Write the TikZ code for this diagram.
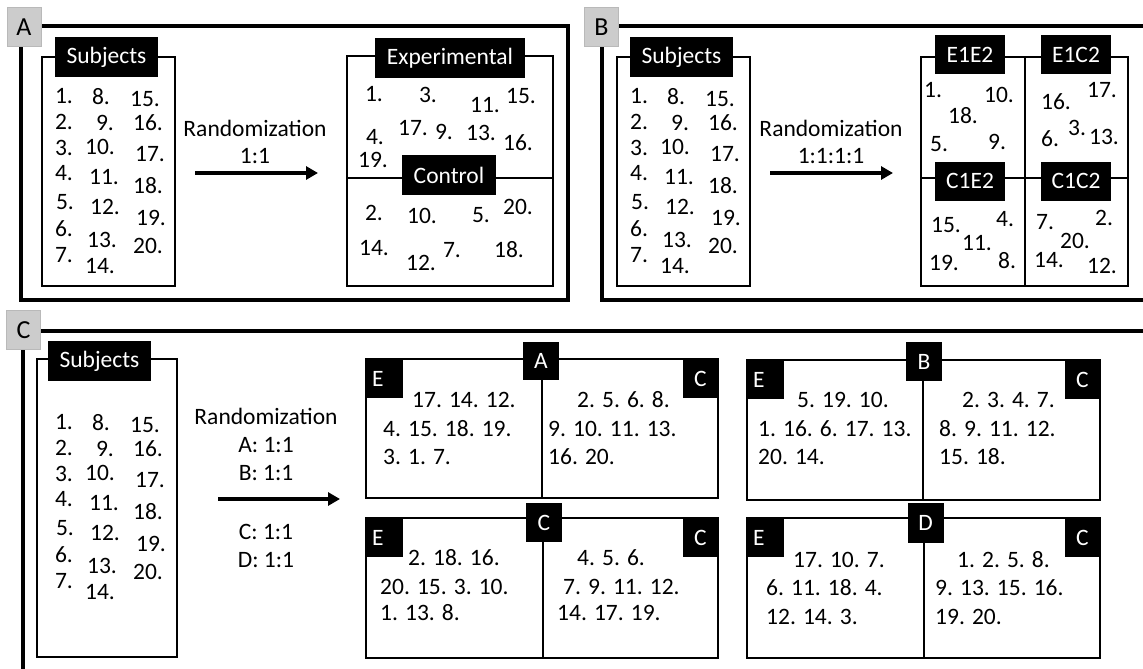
\documentclass[tikz,border=0pt]{standalone}
\usepackage{fontspec}
\setmainfont{Carlito}
\usetikzlibrary{arrows.meta}
\newcommand\mysubjnums[1]{%
  \foreach \t/\px/\py [count=\i] in {1/64/96,2/64/122,3/64/148,4/64/173,5/65/202,6/64/229,7/64/255,
    8/101/97,9/105/123,10/100/147,11/104/177,12/105/207,13/102/240,14/100/266,
    15/145/99,16/148/123,17/150/154,18/148/186,19/151/218,20/148/246}
  {\node[num] (#1\i) at (\px,\py) {\t.};}}
\begin{document}
\begin{tikzpicture}[x=1pt,y=-1pt,
  txt/.style={font=\fontsize{23.5}{28}\selectfont, inner sep=0pt},
  num/.style={txt},
  line/.style={txt, anchor=west},
  blk/.style={fill=black, text=white, font=\fontsize{23.5}{28}\selectfont, inner sep=0pt},
  corner/.style={blk, minimum height=39pt, text width=25pt, inner xsep=6pt, align=left},
  letterbox/.style={fill=gray!40, draw=gray!55, line width=1pt, minimum width=34pt, minimum height=39pt, inner sep=0pt, font=\fontsize{26}{30}\selectfont, anchor=north west},
  frame/.style={line width=3.4pt},
  box/.style={line width=2.9pt},
  arr/.style={line width=4pt, -{Triangle[length=12pt,width=13pt]}}]
\useasboundingbox (0,0) rectangle (1143,669);
\clip (0,0) rectangle (1143,669);
\fill[white] (0,0) rectangle (1143,669);
% ---------- frames
\draw[frame] (21,26) rectangle (568,300);
\draw[frame] (1160,26) -- (602,26) -- (602,300) -- (1160,300);
\draw[frame] (1160,331) -- (23,331) -- (23,690);
\node[letterbox] (lA) at (6.5,7) {A};
\node[letterbox] (lB) at (584,7) {B};
\node[letterbox] (lC) at (6,310) {C};
% ---------- Panel A
\draw[box] (42,57) rectangle (175,286);
\node[blk, minimum width=103pt, minimum height=40pt] (subjA) at (106.5,57) {Subjects};
\mysubjnums{sa}
\node[txt] (randA) at (255,128) {Randomization};
\node[txt] (ratioA) at (255,156) {1:1};
\coordinate (aA1) at (195,173); \coordinate (aA2) at (318,173);
\draw[arr] (aA1) -- (aA2);
\draw[box] (347,56) rectangle (553,286);
\draw[box] (347,178) -- (553,178);
\node[blk, minimum width=150pt, minimum height=40pt] (expA) at (450,58) {Experimental};
\node[blk, minimum width=94pt, minimum height=40pt] (ctlA) at (449,175) {Control};
\foreach \t/\px/\py [count=\i] in {1/374/94,3/428/95,11/485/105,15/521/96,4/375/137,17/413/128,9/444/132,13/481/133,16/518/143,19/373/160}
  {\node[num] (ea\i) at (\px,\py) {\t.};}
\foreach \t/\px/\py [count=\i] in {2/374/213,10/422/216,5/481/215,20/518/207,14/374/248,12/421/263,7/452/250,18/509/250}
  {\node[num] (ca\i) at (\px,\py) {\t.};}
% ---------- Panel B
\draw[box] (617,57) rectangle (750,286);
\node[blk, minimum width=103pt, minimum height=40pt] (subjB) at (681.5,57) {Subjects};
\begin{scope}[shift={(575,0)}]
\mysubjnums{sb}
\end{scope}
\node[txt] (randB) at (831,128) {Randomization};
\node[txt] (ratioB) at (831,156) {1:1:1:1};
\coordinate (aB1) at (770,173); \coordinate (aB2) at (893,173);
\draw[arr] (aB1) -- (aB2);
\draw[box] (921,57) rectangle (1128,286);
\draw[box] (1025,57) -- (1025,286);
\draw[box] (921,178) -- (1128,178);
\node[blk, minimum width=70pt, minimum height=39pt] (e1e2) at (970,55) {E1E2};
\node[blk, minimum width=70pt, minimum height=39pt] (e1c2) at (1076,55) {E1C2};
\node[blk, minimum width=70pt, minimum height=39pt] (c1e2) at (970,181) {C1E2};
\node[blk, minimum width=70pt, minimum height=39pt] (c1c2) at (1076,181) {C1C2};
\foreach \t/\px/\py [count=\i] in {1/933/90,10/999/95,18/963/116,5/939/144,9/997/142,
   16/1056/102,17/1102/90,6/1050/139,3/1077/128,13/1104/137,
   15/946/225,4/1005/219,11/977/243,19/944/263,8/1007/261,
   7/1045/222,2/1104/218,20/1075/241,14/1049/260,12/1102/266}
  {\node[num] (gb\i) at (\px,\py) {\t.};}
% ---------- Panel C
\draw[box] (37,359) rectangle (177,657);
\node[blk, minimum width=103pt, minimum height=40pt] (subjC) at (99.5,361) {Subjects};
\begin{scope}[shift={(0,326)}]
\mysubjnums{sc}
\end{scope}
\node[txt] (randC) at (266,416) {Randomization};
\node[txt] (rA) at (266,445) {A: 1:1};
\node[txt] (rB) at (266,473) {B: 1:1};
\node[txt] (rC) at (266,532) {C: 1:1};
\node[txt] (rD) at (266,560) {D: 1:1};
\coordinate (aC1) at (218,499); \coordinate (aC2) at (340,499);
\draw[arr] (aC1) -- (aC2);
% box A
\draw[box] (366,359) rectangle (718,498);
\draw[box] (542,359) -- (542,498);
\node[blk, minimum width=36pt, minimum height=38pt] (gA) at (541,361) {A};
\node[corner, anchor=north west] (gAE) at (366,359) {E};
\node[blk, minimum width=35pt, minimum height=39pt, anchor=north east] (gAC) at (718,359) {C};
\node[line] (gA1) at (412,400) {17. 14. 12.};
\node[line] (gA2) at (383,429) {4. 15. 18. 19.};
\node[line] (gA3) at (383,457) {3. 1. 7.};
\node[line] (gA4) at (577,400) {2. 5. 6. 8.};
\node[line] (gA5) at (548,429) {9. 10. 11. 13.};
\node[line] (gA6) at (548,457) {16. 20.};
% box C
\draw[box] (366,518) rectangle (718,658);
\draw[box] (543,518) -- (543,658);
\node[blk, minimum width=36pt, minimum height=39pt] (gC) at (544,522.5) {C};
\node[corner, anchor=north west] (gCE) at (366,518) {E};
\node[blk, minimum width=35pt, minimum height=39pt, anchor=north east] (gCC) at (718,518) {C};
\node[line] (gC1) at (408,558) {2. 18. 16.};
\node[line] (gC2) at (380,587) {20. 15. 3. 10.};
\node[line] (gC3) at (380,613) {1. 13. 8.};
\node[line] (gC4) at (577,558) {4. 5. 6.};
\node[line] (gC5) at (563,587) {7. 9. 11. 12.};
\node[line] (gC6) at (557,613) {14. 17. 19.};
% box B
\draw[box] (747,360) rectangle (1100,500);
\draw[box] (923,360) -- (923,500);
\node[blk, minimum width=36pt, minimum height=39pt] (gB) at (924,361.5) {B};
\node[corner, anchor=north west] (gBE) at (747,360) {E};
\node[blk, minimum width=35pt, minimum height=39pt, anchor=north east] (gBC) at (1100,360) {C};
\node[line] (gB1) at (797,400) {5. 19. 10.};
\node[line] (gB2) at (758,429) {1. 16. 6. 17. 13.};
\node[line] (gB3) at (758,457) {20. 14.};
\node[line] (gB4) at (962,400) {2. 3. 4. 7.};
\node[line] (gB5) at (939,429) {8. 9. 11. 12.};
\node[line] (gB6) at (939,457) {15. 18.};
% box D
\draw[box] (747,518) rectangle (1100,658);
\draw[box] (924,518) -- (924,658);
\node[blk, minimum width=36pt, minimum height=40pt] (gD) at (925.5,523) {D};
\node[corner, anchor=north west] (gDE) at (747,518) {E};
\node[blk, minimum width=35pt, minimum height=39pt, anchor=north east] (gDC) at (1100,518) {C};
\node[line] (gD1) at (793,560) {17. 10. 7.};
\node[line] (gD2) at (766,588) {6. 11. 18. 4.};
\node[line] (gD3) at (766,617) {12. 14. 3.};
\node[line] (gD4) at (957,560) {1. 2. 5. 8.};
\node[line] (gD5) at (935,588) {9. 13. 15. 16.};
\node[line] (gD6) at (935,617) {19. 20.};
\end{tikzpicture}
\end{document}
